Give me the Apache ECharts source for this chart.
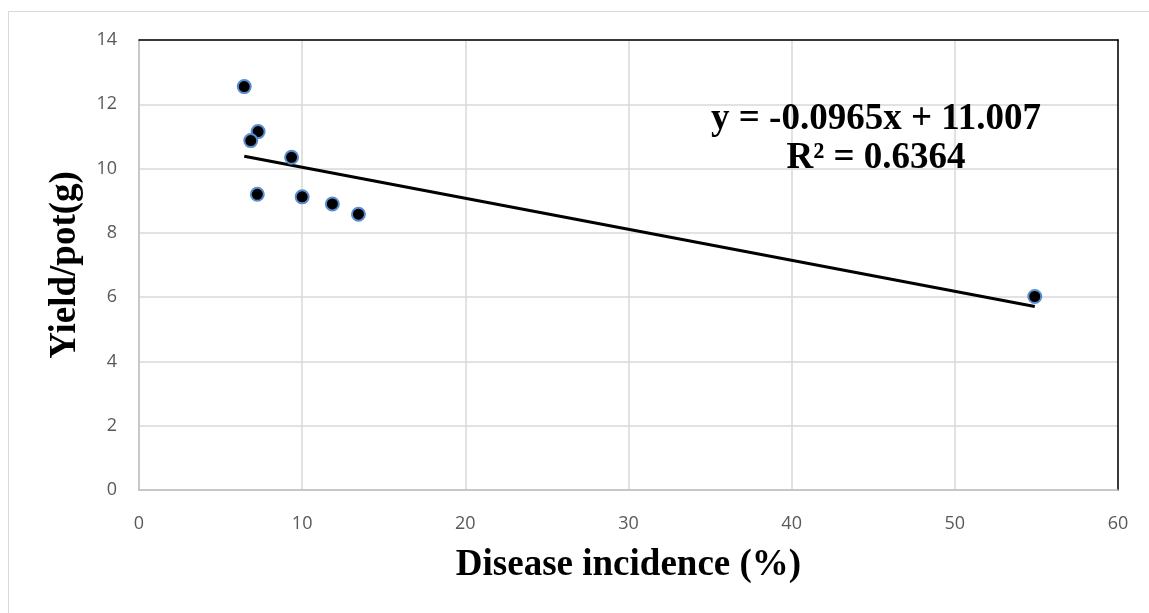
<!DOCTYPE html>
<html>
<head>
<meta charset="utf-8">
<script src="https://cdn.jsdelivr.net/npm/echarts@6/dist/echarts.min.js"></script>
<style>
html, body { margin: 0; padding: 0; background: #fff; }
#container { width: 1149px; height: 613px; }
</style>
</head>
<body>
<div id="container"></div>
<script>
// data
var incidence = [6.45, 7.3, 6.85, 9.35, 7.25, 10.0, 11.85, 13.45, 54.9];
var yieldPot = [12.55, 11.15, 10.87, 10.35, 9.2, 9.12, 8.9, 8.58, 6.02];
var slope = -0.0965;
var intercept = 11.007;
var rSquared = 0.6364;

var points = incidence.map(function (x, i) {
    return [x, yieldPot[i]];
});
var xMin = Math.min.apply(null, incidence);
var xMax = Math.max.apply(null, incidence);
var trend = [[xMin, slope * xMin + intercept], [xMax, slope * xMax + intercept]];

var dom = document.getElementById("container");
var myChart = echarts.init(dom);

var labelStyle = { color: '#595959', fontSize: 18, fontFamily: 'Open Sans' };
var nameStyle = {
    fontFamily: 'Liberation Serif',
    fontWeight: 'bold',
    fontSize: 37,
    color: '#000'
};

var option = {
    animation: false,
    backgroundColor: '#fff',
    grid: {
        left: 139,
        right: 31,
        top: 40,
        bottom: 123
    },
    graphic: [{
        type: 'rect',
        shape: { x: 8.5, y: 11.5, width: 1300, height: 800 },
        style: { fill: 'none', stroke: '#d9d9d9', lineWidth: 1 },
        silent: true,
        z: -1
    }, {
        type: 'text',
        x: 876,
        y: 100,
        style: {
            text: 'y = ' + slope + 'x + ' + intercept + '\nR² = ' + rSquared,
            font: 'bold 37px "Liberation Serif"',
            fill: '#000',
            align: 'center',
            lineHeight: 39
        },
        z: 10
    }],
    xAxis: [{
        type: 'value',
        min: 0,
        max: 60,
        interval: 10,
        name: 'Disease incidence (%)',
        nameLocation: 'middle',
        nameGap: 57,
        nameTextStyle: nameStyle,
        axisLine: { show: true, onZero: false, lineStyle: { color: '#bfbfbf', width: 1.5 } },
        axisTick: { show: false },
        axisLabel: Object.assign({ margin: 25 }, labelStyle),
        splitLine: { show: true, lineStyle: { color: '#d9d9d9', width: 1.5 } }
    }, {
        type: 'value',
        position: 'top',
        min: 0,
        max: 60,
        interval: 10,
        axisLine: { show: true, onZero: false, lineStyle: { color: '#000', width: 1.5 } },
        axisTick: { show: false },
        axisLabel: { show: false },
        splitLine: { show: false }
    }],
    yAxis: [{
        type: 'value',
        min: 0,
        max: 14,
        interval: 2,
        name: 'Yield/pot(g)',
        nameLocation: 'middle',
        nameGap: 55,
        nameTextStyle: nameStyle,
        axisLine: { show: true, onZero: false, lineStyle: { color: '#bfbfbf', width: 1.5 } },
        axisTick: { show: false },
        axisLabel: Object.assign({ margin: 22 }, labelStyle),
        splitLine: { show: true, lineStyle: { color: '#d9d9d9', width: 1.5 } }
    }, {
        type: 'value',
        position: 'right',
        min: 0,
        max: 14,
        interval: 2,
        axisLine: { show: true, onZero: false, lineStyle: { color: '#000', width: 1.5 } },
        axisTick: { show: false },
        axisLabel: { show: false },
        splitLine: { show: false }
    }],
    series: [{
        type: 'line',
        data: trend,
        symbol: 'none',
        lineStyle: { color: '#000', width: 3 },
        z: 3
    }, {
        type: 'scatter',
        data: points,
        symbol: 'circle',
        symbolSize: 13,
        itemStyle: { color: '#000', borderColor: '#5b8dd0', borderWidth: 2, opacity: 1 },
        z: 4
    }]
};

myChart.setOption(option, true);
</script>
</body>
</html>
